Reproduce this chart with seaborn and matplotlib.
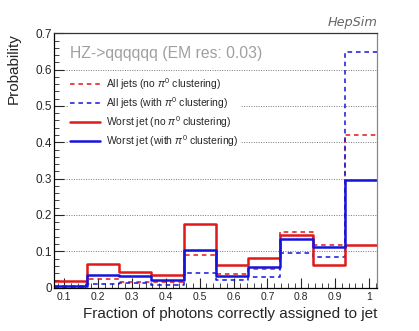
import numpy as np
import matplotlib
matplotlib.use("Agg")
import matplotlib.pyplot as plt
from matplotlib.ticker import MultipleLocator
import pandas as pd
import seaborn as sns

# bin range of the histogram (10 equal bins)
bin_lo = 0.0705
bin_hi = 1.0245
n_bins = 10

# probabilities per bin
all_no_pi0 = [0.005, 0.025, 0.016, 0.015, 0.090, 0.037, 0.051, 0.153, 0.118, 0.420]
all_with_pi0 = [0.002, 0.011, 0.012, 0.006, 0.041, 0.020, 0.028, 0.094, 0.083, 0.648]
worst_no_pi0 = [0.017, 0.066, 0.042, 0.035, 0.174, 0.063, 0.082, 0.145, 0.062, 0.118]
worst_with_pi0 = [0.004, 0.034, 0.033, 0.021, 0.103, 0.033, 0.056, 0.135, 0.113, 0.296]

labels = [r"All jets (no $\pi^{0}$ clustering)",
          r"All jets (with $\pi^{0}$ clustering)",
          r"Worst jet (no $\pi^{0}$ clustering)",
          r"Worst jet (with $\pi^{0}$ clustering)"]

edges = np.linspace(bin_lo, bin_hi, n_bins + 1)
centers = 0.5 * (edges[:-1] + edges[1:])

sns.set_style("ticks")
plt.rcParams["font.family"] = ["Liberation Sans", "DejaVu Sans"]
plt.rcParams["mathtext.fontset"] = "custom"
plt.rcParams["mathtext.rm"] = "Liberation Sans"
plt.rcParams["mathtext.it"] = "Liberation Sans:italic"

fig = plt.figure(figsize=(4.19, 3.31), dpi=100)
ax = fig.add_axes([0.1296, 0.1311, 0.9005 - 0.1296, 0.8994 - 0.1311])

red = "#e01818"
blue = "#1414dc"
series = [
    (all_no_pi0, red, (0, (3, 2.5)), 1.1),
    (all_with_pi0, blue, (0, (3, 2.5)), 1.1),
    (worst_no_pi0, red, "-", 1.8),
    (worst_with_pi0, blue, "-", 1.8),
]
for (vals, col, ls, lw), lab in zip(series, labels):
    df = pd.DataFrame({"x": centers, "w": vals})
    sns.histplot(data=df, x="x", weights="w", bins=n_bins, binrange=(bin_lo, bin_hi),
                 element="step", fill=False, color=col, linestyle=ls,
                 linewidth=lw, label=lab, ax=ax)

ax.set_xlim(bin_lo, bin_hi)
ax.set_ylim(0, 0.7)
ax.xaxis.set_minor_locator(MultipleLocator(0.02))
ax.yaxis.set_minor_locator(MultipleLocator(0.02))
ax.set_xticks(np.arange(0.1, 1.01, 0.1))
ax.set_xticklabels(["0.1", "0.2", "0.3", "0.4", "0.5", "0.6", "0.7", "0.8", "0.9", "1"])
ax.set_yticks(np.arange(0, 0.71, 0.1))
ax.set_yticklabels(["0", "0.1", "0.2", "0.3", "0.4", "0.5", "0.6", "0.7"])

ax.tick_params(axis="both", which="major", direction="in", length=7, width=0.8)
ax.tick_params(axis="both", which="minor", direction="in", length=3.5, width=0.6)
ax.tick_params(axis="y", which="major", pad=1.5, labelsize=8.5)
ax.tick_params(axis="x", which="major", pad=3, labelsize=7.5)

ax.yaxis.grid(True, linestyle=(0, (1, 1.5)), color="#777777", linewidth=0.7)
ax.set_axisbelow(True)

ax.spines["left"].set_color("black")
ax.spines["bottom"].set_color("black")
ax.spines["right"].set_color("#888888")
ax.spines["top"].set_linestyle((0, (1, 1)))
ax.spines["top"].set_color("#333333")
for s in ax.spines.values():
    s.set_linewidth(0.9)

ax.set_ylabel("Probability", fontsize=11, loc="top")
ax.yaxis.set_label_coords(-0.105, 1.0)
ax.set_xlabel("Fraction of photons correctly assigned to jet", fontsize=11, loc="right")
ax.xaxis.set_label_coords(1.0, -0.076)

ax.text(0.049, 0.9225, "HZ->qqqqqq (EM res: 0.03)", transform=ax.transAxes,
        fontsize=11.3, color="#a0a0a0", ha="left", va="center")
fig.text(0.9, 0.933, "HepSim", fontsize=9.3, color="#666666", style="italic",
         family="DejaVu Sans", ha="right", va="center")

leg = ax.legend(loc="upper left", bbox_to_anchor=(0.042, 0.840), fontsize=7.5,
                frameon=True, fancybox=False, framealpha=1, facecolor="white",
                edgecolor="none", borderpad=0.2, borderaxespad=0,
                handlelength=2.9, handletextpad=0.6, labelspacing=0.3)

fig.savefig("out.png", dpi=100)
